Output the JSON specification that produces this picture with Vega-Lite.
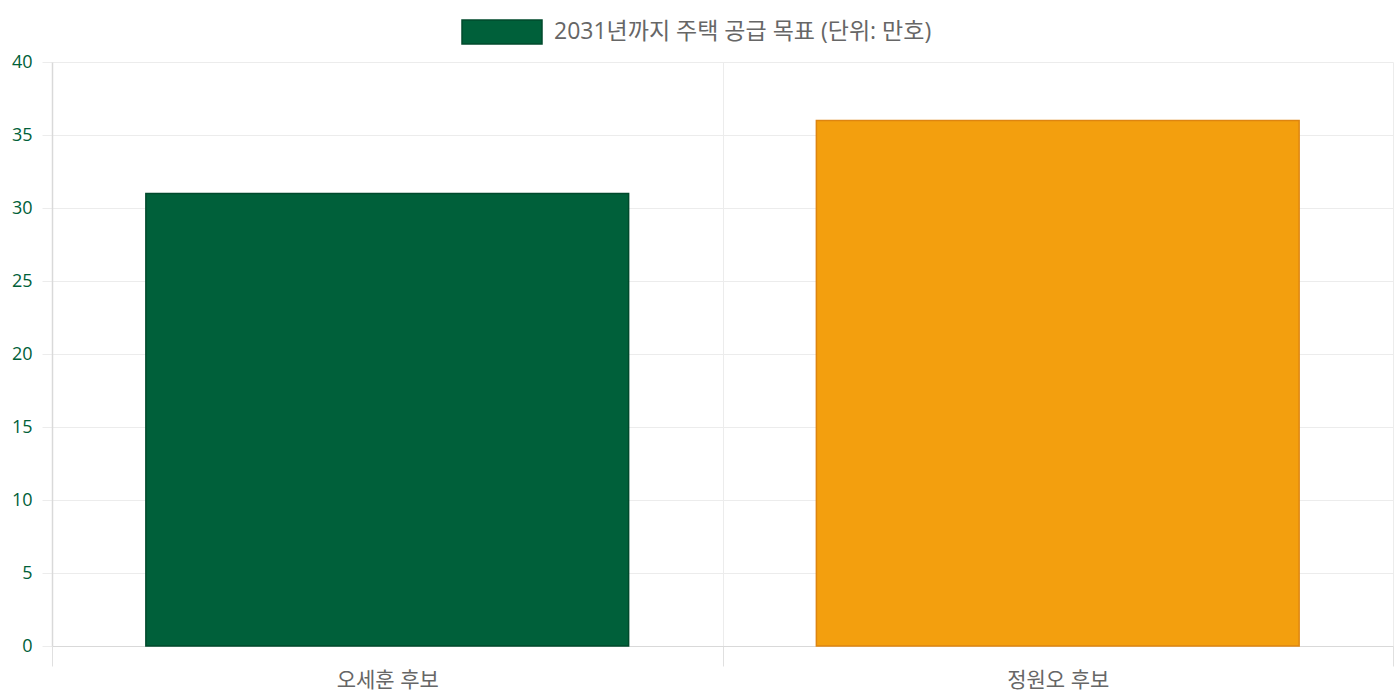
{
  "$schema": "https://vega.github.io/schema/vega-lite/v6.json",
  "autosize": "none",
  "width": 1341,
  "height": 584,
  "padding": {"left": 52, "top": 62, "right": 7, "bottom": 54},
  "background": "white",
  "config": {
    "font": "Open Sans, Noto Sans CJK KR",
    "view": {"stroke": null}
  },
  "data": {
    "values": [
      {"candidate": "오세훈 후보", "target": 31},
      {"candidate": "정원오 후보", "target": 36}
    ]
  },
  "mark": {"type": "bar", "width": {"band": 0.72}, "strokeWidth": 1.5},
  "encoding": {
    "x": {
      "field": "candidate",
      "type": "nominal",
      "sort": null,
      "scale": {"paddingInner": 0, "paddingOuter": 0},
      "axis": {
        "title": null,
        "labelAngle": 0,
        "labelFont": "Open Sans, Noto Sans CJK KR",
        "labelFontSize": 21,
        "labelColor": "#666666",
        "labelPadding": 3,
        "tickBand": "extent",
        "tickSize": 20,
        "tickColor": "#e0e0e0",
        "domainColor": "#d9d9d9",
        "grid": true,
        "gridColor": "#ececec"
      }
    },
    "y": {
      "field": "target",
      "type": "quantitative",
      "scale": {"domain": [0, 40], "nice": false},
      "axis": {
        "title": null,
        "values": [0, 5, 10, 15, 20, 25, 30, 35, 40],
        "labelFontSize": 18,
        "labelColor": "#006039",
        "labelPadding": 10,
        "tickSize": 10,
        "tickColor": "#ececec",
        "domainColor": "#d9d9d9",
        "domainWidth": 1.5,
        "gridColor": "#ececec"
      }
    },
    "fill": {
      "field": "candidate",
      "type": "nominal",
      "sort": null,
      "scale": {"range": ["#00603a", "#f39f0e"]},
      "legend": {
        "orient": "none",
        "legendX": 409,
        "legendY": -71,
        "direction": "horizontal",
        "title": null,
        "padding": 0,
        "values": ["오세훈 후보"],
        "labelExpr": "'2031년까지 주택 공급 목표 (단위: 만호)'",
        "symbolType": "M-1,-0.3H1V0.3H-1Z",
        "symbolSize": 6400,
        "symbolStrokeColor": "#004a2c",
        "symbolStrokeWidth": 1.5,
        "symbolOpacity": 1,
        "labelFontSize": 23,
        "labelColor": "#666666",
        "labelOffset": 11,
        "labelLimit": 600
      }
    },
    "stroke": {
      "field": "candidate",
      "type": "nominal",
      "sort": null,
      "scale": {"range": ["#004a2c", "#de8510"]},
      "legend": null
    }
  }
}
